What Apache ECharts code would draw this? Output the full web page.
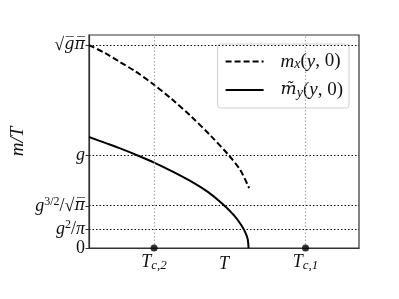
<!DOCTYPE html>
<html><head><meta charset="utf-8">
<script src="https://cdn.jsdelivr.net/npm/echarts@6/dist/echarts.min.js"></script>
<style>html,body{margin:0;padding:0;background:#fff}#c{width:399px;height:299px}</style>
</head><body><div id="c"></div>
<script>
// ---- data ----
const yTickValues = [0, 0.1345, 0.2953, 0.65, 1.429];
const yTickLabels = ['0', 'g²/π', 'g^(3/2)/√π', 'g', '√(gπ)'];
const xTickValues = [0.241, 0.802];
const xTickLabels = ['T_c,2', 'T_c,1'];
const seriesNames = ['m_x(y,0)', 'm̃_y(y,0)'];
const dashedX = [0, 0.060, 0.114, 0.170, 0.237, 0.305, 0.378, 0.452, 0.520, 0.560, 0.593];
const dashedY = [1.429, 1.372, 1.310, 1.246, 1.155, 1.051, 0.927, 0.788, 0.648, 0.550, 0.422];
const solidX = [0, 0.060, 0.120, 0.176, 0.243, 0.310, 0.378, 0.440, 0.495, 0.538, 0.565, 0.580, 0.588, 0.591];
const solidY = [0.782, 0.740, 0.698, 0.655, 0.600, 0.538, 0.469, 0.395, 0.310, 0.228, 0.158, 0.105, 0.060, 0];

// ---- rich text renderings of labels ----
const richLabel = {
  '0': '{rm|0}',
  'g²/π': '{it|g}{sup|2}{rm|/}{it|π}',
  'g^(3/2)/√π': '{it|g}{sup|3/2}{rm|/√}{ov|π̅}',
  'g': '{it|g}',
  '√(gπ)': '{rm|√}{ov|g̅π̅}',
  'T_c,2': '{it|T}{sub|c,2}',
  'T_c,1': '{it|T}{sub|c,1}',
  'm_x(y,0)': '{it|m}{sub|x}{rm|(}{it|y}{rm|, 0)}',
  'm̃_y(y,0)': '{tl|m̃}{sub|y}{rm|(}{it|y}{rm|, 0)}'
};
const F = 'Liberation Serif';
function makeRich(s) {
  return {
    it: {fontFamily: F, fontStyle: 'italic', fontSize: s, lineHeight: 20, color: '#111'},
    tl: {fontFamily: 'DejaVu Serif', fontStyle: 'italic', fontSize: s - 2, lineHeight: 20, color: '#111'},
    ov: {fontFamily: 'DejaVu Serif', fontStyle: 'italic', fontSize: s - 2, lineHeight: 20, color: '#111'},
    rm: {fontFamily: F, fontSize: s, lineHeight: 20, color: '#111'},
    sub: {fontFamily: F, fontStyle: 'italic', fontSize: s - 5, lineHeight: 11, verticalAlign: 'bottom', color: '#111'},
    sup: {fontFamily: F, fontSize: s - 6, lineHeight: 10, verticalAlign: 'top', color: '#111'}
  };
}
const rich = makeRich(18);
const legendRich = makeRich(19);
function nearest(vals, v) {
  let bi = 0;
  vals.forEach((x, i) => { if (Math.abs(x - v) < Math.abs(vals[bi] - v)) bi = i; });
  return bi;
}

const chart = echarts.init(document.getElementById('c'), null, {renderer: 'canvas'});
chart.setOption({
  animation: false,
  backgroundColor: '#fff',
  grid: {left: 87, right: 40, top: 35, bottom: 51, show: true, borderColor: '#333', borderWidth: 1.2, backgroundColor: 'transparent'},
  legend: {
    data: seriesNames,
    orient: 'vertical',
    right: 50, top: 44,
    itemWidth: 38, itemHeight: 14, itemGap: 9,
    padding: [8, 6, 8, 7],
    backgroundColor: 'rgba(255,255,255,0.8)',
    borderColor: '#d0d0d0', borderWidth: 1, borderRadius: 3,
    itemStyle: {opacity: 0},
    formatter: n => richLabel[n],
    textStyle: {rich: legendRich, padding: [0, 0, 0, 12]}
  },
  xAxis: {
    type: 'value', min: 0, max: 1,
    name: 'T', nameLocation: 'middle', nameGap: 7, nameMoveOverlap: false,
    nameTextStyle: {fontFamily: F, fontStyle: 'italic', fontSize: 18, color: '#111', verticalAlign: 'top'},
    axisLine: {show: true, lineStyle: {color: '#333', width: 1.2}},
    axisTick: {show: false},
    splitLine: {show: false},
    axisLabel: {
      customValues: xTickValues, margin: 4,
      formatter: v => richLabel[xTickLabels[nearest(xTickValues, v)]],
      rich: rich
    }
  },
  yAxis: {
    type: 'value', min: 0, max: 1.5,
    name: 'm/T', nameLocation: 'middle', nameGap: 62, nameRotate: 90, nameMoveOverlap: false,
    nameTextStyle: {fontFamily: F, fontStyle: 'italic', fontSize: 19, color: '#111'},
    axisLine: {show: true, lineStyle: {color: '#333', width: 1.2}},
    axisTick: {show: true, customValues: yTickValues, length: 3.5, lineStyle: {color: '#333'}},
    splitLine: {show: false},
    axisLabel: {
      customValues: yTickValues, margin: 4,
      formatter: v => richLabel[yTickLabels[nearest(yTickValues, v)]],
      rich: rich
    }
  },
  series: [
    {
      name: 'guides', type: 'line', data: [], silent: true,
      markLine: {
        silent: true, symbol: ['none', 'none'], label: {show: false},
        data: yTickValues.slice(1).map(v => ({yAxis: v, lineStyle: {color: '#111', type: [1.5, 2], width: 1.2}}))
          .concat(xTickValues.map(v => ({xAxis: v, lineStyle: {color: '#aaa', type: [1.5, 2], width: 1.2}})))
      }
    },
    {
      name: seriesNames[0], type: 'line', smooth: 0.3, symbol: 'none',
      data: dashedX.map((x, i) => [x, dashedY[i]]),
      lineStyle: {color: '#000', width: 2, type: [6, 3]}, itemStyle: {color: '#000'}, z: 3
    },
    {
      name: seriesNames[1], type: 'line', smooth: 0.3, symbol: 'none',
      data: solidX.map((x, i) => [x, solidY[i]]),
      lineStyle: {color: '#000', width: 2}, itemStyle: {color: '#000'}, z: 3
    },
    {
      name: 'Tc', type: 'scatter', symbolSize: 7, clip: false,
      data: xTickValues.map(x => [x, 0]),
      itemStyle: {color: '#000'}, z: 5
    }
  ]
});
</script>
</body></html>
